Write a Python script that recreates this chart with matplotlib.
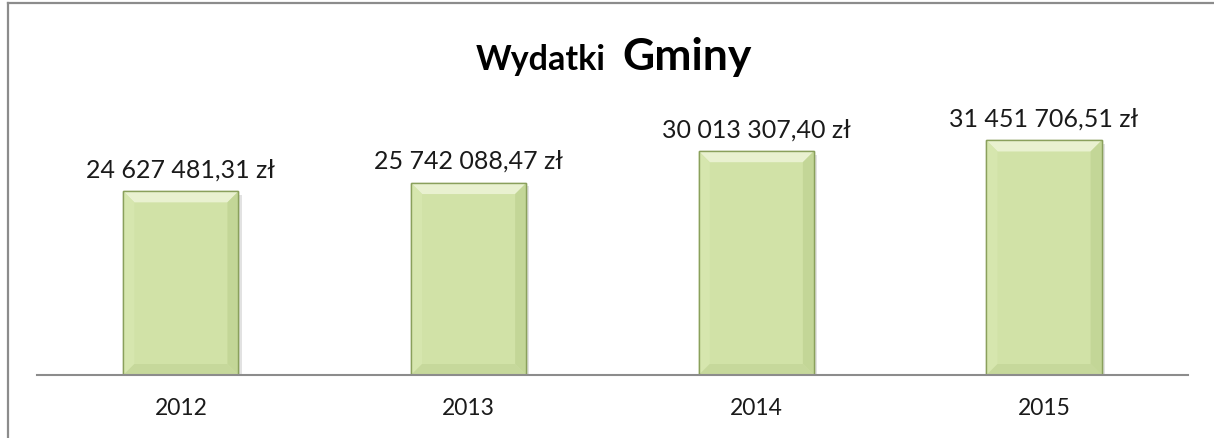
import matplotlib.pyplot as plt
from matplotlib.patches import Polygon
from matplotlib.lines import Line2D

# Data
years = ['2012', '2013', '2014', '2015']
wydatki = [24627481.31, 25742088.47, 30013307.40, 31451706.51]
etykiety = ['24 627 481,31 zł', '25 742 088,47 zł', '30 013 307,40 zł', '31 451 706,51 zł']

plt.rcParams['font.family'] = ['Lato', 'DejaVu Sans']

fig = plt.figure(figsize=(12.14, 4.39), dpi=100)
ax = fig.add_axes([0.0305, 0.1435, 0.948, 0.5945])

x = list(range(len(years)))
bw = 0.40
bars = ax.bar(x, wydatki, width=bw, color='#d1e2a7', edgecolor='#93a866',
              linewidth=1.0, zorder=3)

ax.set_xlim(-0.5, 3.5)
ax.set_ylim(0, 35e6)

# bevel effect, sizes in pixels converted to data units
fig.canvas.draw()
p0 = ax.transData.transform((0, 0))
p1 = ax.transData.transform((1, 1e6))
bx = 11 / (p1[0] - p0[0])
by = 11 / (p1[1] - p0[1]) * 1e6
for b in bars:
    x0 = b.get_x()
    x1 = x0 + b.get_width()
    h = b.get_height()
    # shadow
    ax.add_patch(Polygon([(x1, -by * 0.2), (x1 + bx * 0.3, -by * 0.2),
                          (x1 + bx * 0.3, h - by * 0.3), (x1, h - by * 0.3)],
                         closed=True, color='#cfcfcf', alpha=0.6, lw=0, zorder=2))
    # top bevel (light)
    ax.add_patch(Polygon([(x0, h), (x1, h), (x1 - bx, h - by), (x0 + bx, h - by)],
                         closed=True, color='#e9f1d0', lw=0, zorder=4))
    # left bevel
    ax.add_patch(Polygon([(x0, h), (x0 + bx, h - by), (x0 + bx, by), (x0, 0)],
                         closed=True, color='#d6e6ae', lw=0, zorder=4))
    # right bevel (dark)
    ax.add_patch(Polygon([(x1, h), (x1 - bx, h - by), (x1 - bx, by), (x1, 0)],
                         closed=True, color='#c3d697', lw=0, zorder=4))
    # bottom bevel
    ax.add_patch(Polygon([(x0, 0), (x1, 0), (x1 - bx, by), (x0 + bx, by)],
                         closed=True, color='#c6d89b', lw=0, zorder=4))
    ax.add_patch(Polygon([(x0, 0), (x1, 0), (x1, h), (x0, h)], closed=True,
                         fill=False, edgecolor='#8aa05c', lw=1.0, zorder=5))

for xi, v, lab in zip(x, wydatki, etykiety):
    ax.annotate(lab, (xi, v), xytext=(0, 11), textcoords='offset pixels',
                ha='center', va='bottom', fontsize=18, color='#1a1a1a')

ax.set_xticks(x)
ax.set_xticklabels(years, fontsize=16.5, color='#1a1a1a')
ax.tick_params(axis='x', length=0, pad=16)
ax.set_yticks([])
for s in ['top', 'right', 'left']:
    ax.spines[s].set_visible(False)
ax.spines['bottom'].set_color('#8c8c8c')
ax.spines['bottom'].set_linewidth(1.5)
ax.spines['bottom'].set_zorder(6)

# title in two sizes
fig.text(606 / 1214, 1 - 70 / 439, 'Wydatki', ha='right', va='baseline',
         fontsize=24.5, fontweight='bold')
fig.text(622 / 1214, 1 - 70 / 439, 'Gminy', ha='left', va='baseline',
         fontsize=32, fontweight='bold')

# chart frame (left and top edges visible)
fig.add_artist(Line2D([8 / 1214, 8 / 1214], [0, 1 - 4 / 439], color='#8c8c8c', lw=1.6))
fig.add_artist(Line2D([8 / 1214, 1], [1 - 4 / 439, 1 - 4 / 439], color='#8c8c8c', lw=1.6))

fig.savefig('out.png', dpi=100)
